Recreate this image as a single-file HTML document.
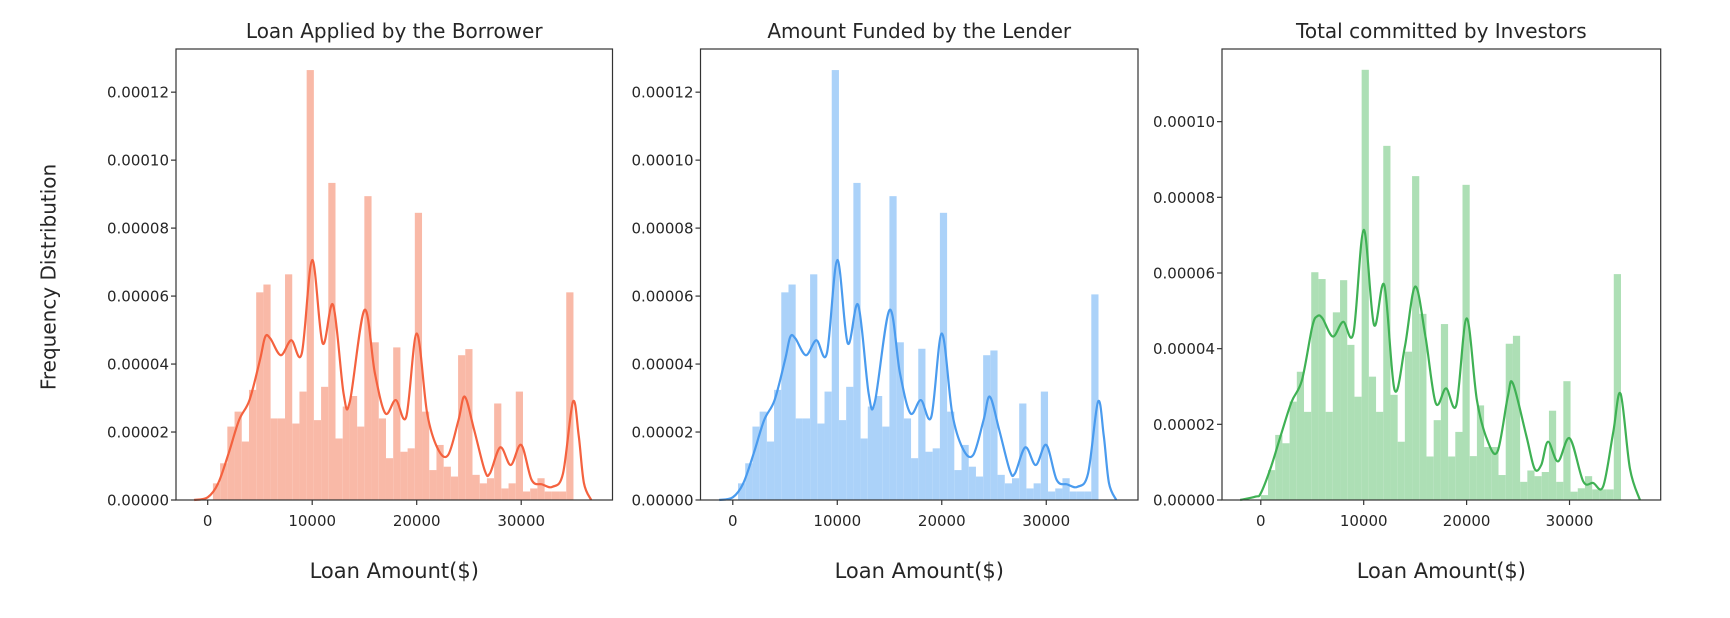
<!DOCTYPE html>
<html><head><meta charset="utf-8"><style>
html,body{margin:0;padding:0;background:#fff;}
svg{display:block;font-family:"DejaVu Sans","Liberation Sans",sans-serif;}
</style></head><body>
<svg id="fig" width="1730" height="618" viewBox="0 0 1730 618">
<text x="50" y="277" transform="rotate(-90 50 277)" text-anchor="middle" dominant-baseline="middle" font-size="20" fill="#262626">Frequency Distribution</text>
</svg>
<script>
// ---- data ----
const binStart = [500, 500, 0];
const binWidth = [690, 690, 700];
const applied = [0.0000049,0.0000108,0.0000216,0.000026,0.0000172,0.0000324,0.0000611,0.0000634,0.000024,0.000024,0.0000664,0.0000225,0.0000319,0.0001265,0.0000235,0.0000333,0.0000933,0.0000181,0.0000275,0.0000306,0.0000216,0.0000894,0.0000464,0.000024,0.0000123,0.0000449,0.0000142,0.0000152,0.0000845,0.000026,0.0000088,0.0000162,0.0000098,0.0000069,0.0000426,0.0000444,0.0000074,0.0000049,0.0000064,0.0000284,0.0000034,0.0000049,0.0000319,0.0000025,0.0000034,0.0000064,0.0000025,0.0000025,0.0000025,0.0000611];
const funded = [0.0000049,0.0000108,0.0000216,0.000026,0.0000172,0.0000324,0.0000611,0.0000634,0.000024,0.000024,0.0000664,0.0000225,0.0000319,0.0001265,0.0000235,0.0000333,0.0000933,0.0000181,0.0000275,0.0000306,0.0000216,0.0000894,0.0000464,0.000024,0.0000123,0.0000445,0.0000142,0.0000152,0.0000845,0.000026,0.0000088,0.0000162,0.0000098,0.0000069,0.0000426,0.000044,0.0000074,0.0000049,0.0000064,0.0000284,0.0000034,0.0000049,0.0000319,0.0000025,0.0000034,0.0000064,0.0000025,0.0000025,0.0000025,0.0000605];
const invested = [0.0000013,0.0000079,0.0000172,0.000015,0.000026,0.0000339,0.0000233,0.0000602,0.0000584,0.0000233,0.0000496,0.0000581,0.000041,0.0000273,0.0001137,0.0000326,0.0000233,0.0000936,0.0000278,0.0000154,0.0000392,0.0000856,0.0000492,0.0000115,0.0000211,0.0000465,0.0000115,0.000018,0.0000833,0.0000116,0.000025,0.000014,0.000014,0.0000066,0.0000413,0.0000434,0.0000048,0.0000078,0.0000063,0.0000074,0.0000236,0.0000048,0.0000314,0.0000022,0.0000031,0.0000063,0.0000028,0.0000028,0.0000028,0.0000597];
const kdeX12 = [-1300,0,1000,2000,3000,4000,5000,5500,6000,7000,8000,9000,10000,11000,12000,13000,13600,15000,16000,17000,18000,19000,20000,21000,22000,23000,24000,24600,25500,26500,27000,28000,29000,30000,31000,32000,33000,34000,34950,35500,36000,36700];
const kdeApplied = [0,0.0000008,0.0000049,0.0000137,0.0000235,0.0000294,0.0000412,0.000048,0.0000475,0.0000426,0.000047,0.0000431,0.0000706,0.0000461,0.0000574,0.0000314,0.0000289,0.0000559,0.0000373,0.0000255,0.0000294,0.0000245,0.000049,0.0000255,0.0000152,0.0000132,0.0000235,0.0000304,0.0000206,0.0000088,0.0000078,0.0000155,0.0000103,0.0000162,0.0000059,0.0000046,0.0000039,0.0000078,0.0000289,0.000019,0.000005,0];
const kdeFunded = [0,0.0000008,0.0000049,0.0000137,0.0000235,0.0000294,0.0000412,0.000048,0.0000475,0.0000426,0.000047,0.0000431,0.0000706,0.0000461,0.0000574,0.0000314,0.0000289,0.0000559,0.0000373,0.0000255,0.0000294,0.0000245,0.000049,0.0000255,0.0000152,0.0000132,0.0000235,0.0000304,0.0000206,0.0000088,0.0000078,0.0000155,0.0000103,0.0000162,0.0000059,0.0000046,0.0000039,0.0000078,0.0000289,0.000019,0.000005,0];
const kdeX3 = [-2000,-500,0,1000,2000,3000,4000,5000,5500,6000,7000,8000,9000,10000,11000,12000,13000,14000,15000,16000,17000,18000,19000,20000,21000,22000,23000,24000,24500,25800,26600,27260,27910,28880,30020,31320,32290,33270,34240,34960,35870,36840];
const kdeInvested = [0,0.0000009,0.0000018,0.0000088,0.0000176,0.000026,0.0000317,0.0000458,0.0000486,0.000048,0.0000432,0.0000471,0.0000441,0.0000714,0.0000463,0.0000568,0.0000291,0.0000405,0.0000564,0.0000432,0.0000256,0.0000295,0.0000251,0.000048,0.0000264,0.0000159,0.0000128,0.0000273,0.0000308,0.000017,0.0000083,0.0000093,0.0000154,0.0000102,0.0000163,0.000005,0.0000045,0.0000036,0.0000178,0.0000281,0.0000083,0];
const titles = ["Loan Applied by the Borrower","Amount Funded by the Lender","Total committed by Investors"];
const xTicks = [0,10000,20000,30000];
const yTicks12 = [0,0.00002,0.00004,0.00006,0.00008,0.0001,0.00012];
const yTicks3 = [0,0.00002,0.00004,0.00006,0.00008,0.0001];

const NS = "http://www.w3.org/2000/svg";
const svg = document.getElementById('fig');
function el(tag, attrs, parent){const e=document.createElementNS(NS,tag);for(const k in attrs)e.setAttribute(k,attrs[k]);(parent||svg).appendChild(e);return e;}

const panels = [
 {L:176,R:612.5,T:49,B:500,xmin:-3033,xmax:38736,ymax:0.0001327,bars:applied,kx:kdeX12,ky:kdeApplied,yt:yTicks12,bar:"#f9b9a7",line:"#f4623f",name:"applied"},
 {L:700.5,R:1138,T:49,B:500,xmin:-3090,xmax:38780,ymax:0.0001327,bars:funded,kx:kdeX12,ky:kdeFunded,yt:yTicks12,bar:"#abd2f9",line:"#4a9bee",name:"funded"},
 {L:1222,R:1660.7,T:49,B:500,xmin:-3770,xmax:38860,ymax:0.0001192,bars:invested,kx:kdeX3,ky:kdeInvested,yt:yTicks3,bar:"#addfb5",line:"#3fb154",name:"invested"}
];

panels.forEach((p,i)=>{
  const g = el('g',{});
  
  
  const sx = v => p.L + (v-p.xmin)/(p.xmax-p.xmin)*(p.R-p.L);
  const sy = v => p.B - v/p.ymax*(p.B-p.T);
  p.bars.forEach((v,k)=>{
    const x0 = sx(binStart[i]+k*binWidth[i]), x1 = sx(binStart[i]+(k+1)*binWidth[i]);
    const r = el('rect',{x:x0,y:sy(v),width:x1-x0,height:p.B-sy(v),fill:p.bar},g);
    
    
  });
  const pts = p.kx.map((x,k)=>[sx(x),sy(p.ky[k])]);
  let d = "M"+pts[0][0]+","+pts[0][1];
  for(let k=0;k<pts.length-1;k++){
    const p0=pts[Math.max(0,k-1)],p1=pts[k],p2=pts[k+1],p3=pts[Math.min(pts.length-1,k+2)];
    const c1=[p1[0]+(p2[0]-p0[0])/6,p1[1]+(p2[1]-p0[1])/6];
    const c2=[p2[0]-(p3[0]-p1[0])/6,p2[1]-(p3[1]-p1[1])/6];
    d+=" C"+c1[0]+","+Math.min(c1[1],p.B)+" "+c2[0]+","+Math.min(c2[1],p.B)+" "+p2[0]+","+p2[1];
  }
  const path = el('path',{d:d,fill:"none",stroke:p.line,"stroke-width":2.2},g);
  
  
  const fr = el('rect',{x:p.L,y:p.T,width:p.R-p.L,height:p.B-p.T,fill:"none",stroke:"#333","stroke-width":1.2},g);
  
  
  xTicks.forEach(t=>{
    el('line',{x1:sx(t),x2:sx(t),y1:p.B,y2:p.B+5,stroke:"#333","stroke-width":1.2},g);
    const tx = el('text',{x:sx(t),y:p.B+26,"text-anchor":"middle","font-size":15,fill:"#262626"},g);
    tx.textContent = t;
    
    
  });
  p.yt.forEach(t=>{
    el('line',{x1:p.L-5,x2:p.L,y1:sy(t),y2:sy(t),stroke:"#333","stroke-width":1.2},g);
    const ty = el('text',{x:p.L-7,y:sy(t)+5.5,"text-anchor":"end","font-size":15,fill:"#262626"},g);
    ty.textContent = t.toFixed(5);
    
    
  });
  const tt = el('text',{x:(p.L+p.R)/2,y:38,"text-anchor":"middle","font-size":20,fill:"#262626"},g);
  tt.textContent = titles[i];
  
  
  const xl = el('text',{x:(p.L+p.R)/2,y:578,"text-anchor":"middle","font-size":21,fill:"#262626"},g);
  xl.textContent = "Loan Amount($)";
  
  
});
</script>
</body></html>
